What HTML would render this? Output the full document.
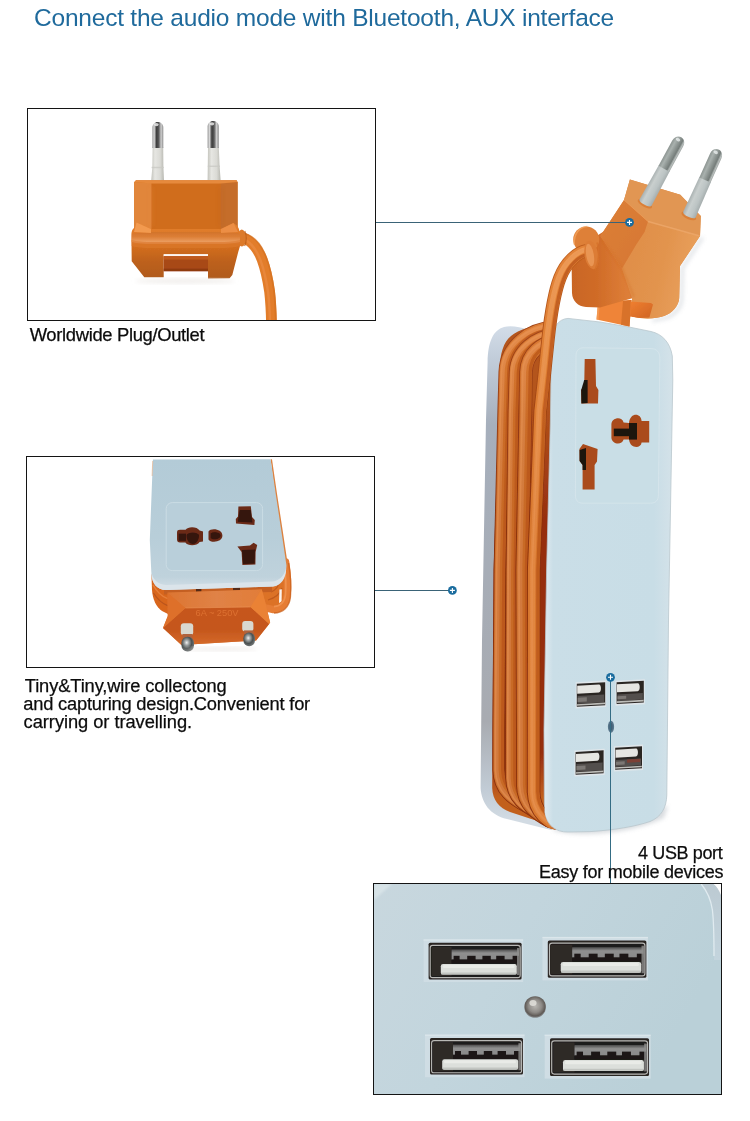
<!DOCTYPE html>
<html lang="en">
<head>
<meta charset="utf-8">
<title>Worldwide Plug/Outlet power strip with 4 USB port</title>
<style>
html,body{margin:0;padding:0;background:#fff;}
body{width:750px;height:1121px;position:relative;overflow:hidden;font-family:"Liberation Sans",sans-serif;color:#111;}
#art{position:absolute;left:0;top:0;width:750px;height:1121px;display:block;}
.t{position:absolute;white-space:nowrap;margin:0;padding:0;font-weight:normal;font-style:normal;-webkit-text-stroke:0.25px currentColor;}
#title{-webkit-text-stroke:0;}
#title{left:33.60px;top:3.01px;font-size:24.5px;line-height:29px;letter-spacing:-0.213px;color:#1f6a9c;will-change:transform;}
#cap1{left:29.66px;top:323.62px;font-size:18.4px;line-height:22px;letter-spacing:-0.333px;color:#0c0c0c;}
#c2a{left:24.76px;top:675.26px;font-size:18.3px;line-height:22px;letter-spacing:-0.110px;color:#0c0c0c;}
#c2b{left:23.24px;top:693.26px;font-size:18.3px;line-height:22px;letter-spacing:-0.199px;color:#0c0c0c;}
#c2c{left:23.62px;top:711.26px;font-size:18.3px;line-height:22px;letter-spacing:-0.053px;color:#0c0c0c;}
#c3a{left:638.12px;top:841.76px;font-size:18px;line-height:22px;letter-spacing:-0.390px;color:#0c0c0c;}
#c3b{left:538.92px;top:860.76px;font-size:18px;line-height:22px;letter-spacing:-0.251px;color:#0c0c0c;}
</style>
</head>
<body>
<svg id="art" width="750" height="1121" viewBox="0 0 750 1121">
<defs>
</defs>
<!-- ===== box 1 : plug ===== -->
<defs>
<clipPath id="c1"><rect x="28" y="109" width="347" height="211"/></clipPath>
<linearGradient id="metalV" x1="0" y1="0" x2="1" y2="0">
<stop offset="0" stop-color="#8f8f8f"/><stop offset="0.16" stop-color="#dcdcdc"/><stop offset="0.38" stop-color="#3c3c3c"/><stop offset="0.58" stop-color="#595959"/><stop offset="0.8" stop-color="#cfcfcf"/><stop offset="1" stop-color="#8c8c8c"/>
</linearGradient>
<linearGradient id="sleeveV" x1="0" y1="0" x2="1" y2="0">
<stop offset="0" stop-color="#c4c4bd"/><stop offset="0.3" stop-color="#e6e6e2"/><stop offset="0.7" stop-color="#dadad5"/><stop offset="1" stop-color="#b8b8b1"/>
</linearGradient>
<linearGradient id="b1body" x1="0" y1="0" x2="0" y2="1">
<stop offset="0" stop-color="#f2913f"/><stop offset="0.5" stop-color="#ee8a39"/><stop offset="1" stop-color="#e98334"/>
</linearGradient>
<linearGradient id="b1base" x1="0" y1="0" x2="0" y2="1">
<stop offset="0" stop-color="#e58231"/><stop offset="0.4" stop-color="#d56f20"/><stop offset="0.7" stop-color="#bd611d"/><stop offset="1" stop-color="#b05a1e"/>
</linearGradient>
<linearGradient id="b1cable" x1="0" y1="0" x2="1" y2="0">
<stop offset="0" stop-color="#e8832f"/><stop offset="0.5" stop-color="#f6a155"/><stop offset="1" stop-color="#e27c2b"/>
</linearGradient>
<linearGradient id="b1band" gradientUnits="userSpaceOnUse" x1="0" y1="232" x2="0" y2="245"><stop offset="0" stop-color="#d2732a"/><stop offset="0.35" stop-color="#dc7e36"/><stop offset="0.75" stop-color="#ea9c5e"/><stop offset="1" stop-color="#e08440"/></linearGradient>
<filter id="bl1" x="-20%" y="-20%" width="140%" height="140%"><feGaussianBlur stdDeviation="1"/></filter>
<filter id="bl2" x="-20%" y="-20%" width="140%" height="140%"><feGaussianBlur stdDeviation="2"/></filter>
<filter id="bl3" x="-30%" y="-30%" width="160%" height="160%"><feGaussianBlur stdDeviation="3.5"/></filter>
<filter id="bl05" x="-20%" y="-20%" width="140%" height="140%"><feGaussianBlur stdDeviation="0.5"/></filter>
</defs>
<g clip-path="url(#c1)">
<g filter="url(#bl05)">
<!-- cable -->
<path d="M238 236.5 C250 238 258 249 262.1 259.5 C266 270 268.5 284 269.6 291.5 C270.8 302 271.3 312 271.5 323" fill="none" stroke="#e27d2c" stroke-width="10.8" stroke-linecap="round"/>
<path d="M240 232.8 C254 234 262 246 266.2 257.5 C270.3 268 272.8 282 274 291 C275.2 302 275.6 312 275.8 323" fill="none" stroke="#d4701f" stroke-width="1.8" opacity="0.7"/>
<path d="M240 238 C250 240 256.5 250 260.6 260.5 C264.5 271 267 285 268.1 292.5 C269.3 303 269.8 313 270 323" fill="none" stroke="#ec8e44" stroke-width="2.4" opacity="0.6"/>
<!-- sleeves -->
<path d="M151.2 180.5 L152.3 167.5 L152.6 147 L163.2 147 L163.4 167.5 L164 180.5 Z" fill="url(#sleeveV)"/>
<path d="M207.6 180 L208 147 L218.8 147 L219.6 166 L220.6 180 Z" fill="url(#sleeveV)"/>
<rect x="151.6" y="166.8" width="12.2" height="1.4" fill="#c9c9c4" opacity="0.8"/>
<rect x="207.8" y="165.6" width="12.2" height="1.4" fill="#c9c9c4" opacity="0.8"/>
<!-- metal tips -->
<path d="M152.4 148 L152.4 127.5 C152.4 120 163.3 120 163.3 127.5 L163.3 148 Z" fill="url(#metalV)"/>
<path d="M207.6 148 L207.6 126.8 C207.6 119.2 218.8 119.2 218.8 126.8 L218.8 148 Z" fill="url(#metalV)"/>
<ellipse cx="156.4" cy="124.6" rx="2.2" ry="1.6" fill="#f4f4f4" opacity="0.8"/>
<ellipse cx="212" cy="123.8" rx="2.2" ry="1.6" fill="#f4f4f4" opacity="0.8"/>
<!-- upper block -->
<path d="M136 180.2 L236.6 180.2 L237.6 182.5 L237.6 232 L134.2 232 L134.2 182.5 Z" fill="#d06d1e"/>
<path d="M134.2 182 L151.4 183 L151.4 230 L134.2 230 Z" fill="#e1863a"/>
<path d="M220.6 183 L237.6 182 L237.6 230 L220.6 230 Z" fill="#c56d2b"/>
<path d="M136 180.2 L236.6 180.2 L237.6 182 L220.6 183.4 L151.4 183.4 L134.2 182 Z" fill="#e68a3c"/>
<!-- collar where the cable leaves -->
<ellipse cx="241.8" cy="238" rx="4.2" ry="8.6" fill="#dc7a2c"/>
<path d="M244.8 231 C246.8 235 246.8 242 244.6 246" fill="none" stroke="#b95c18" stroke-width="1.2" opacity="0.8"/>
<!-- base -->
<path d="M134 228 L136.5 222.5 L151 229 L221 229 L233.5 223 L237.4 226 C239.6 229 240 233 240 238 L240 246 L238.3 251.7 L232.3 275 L229.6 278.2 L208 278.4 L208 254.3 L163.7 254.3 L163.7 277.3 L144.3 277.3 L131.7 261.3 L131.4 234 C131.6 231 132.5 229 134 228 Z" fill="url(#b1base)"/>
<!-- base top band (lighter) -->
<path d="M132 234 C140 232.5 150 232 160 232 L222 232 C230 232 236 232.6 240 234 L240 242 C234 243.6 226 244 220 244 L152 244 C144 244 137 243.6 131.6 242 Z" fill="url(#b1band)"/>
<path d="M131.6 240 C137 241.6 144 242 152 242 L220 242 C226 242 234 241.6 240 240 L240 246 C234 247.6 226 248 220 248 L152 248 C144 248 137 247.6 131.6 246 Z" fill="#dc7a2e" opacity="0.6"/>
<path d="M136.5 222.5 L151 229 L151 233 L134 232 Z" fill="#f29a50"/>
<path d="M233.5 223 L221 229 L221 233 L238 232 Z" fill="#ec8e44"/>
<!-- notch bar -->
<rect x="163.7" y="254.3" width="44.3" height="2" fill="#fdf6f0"/>
<rect x="163.7" y="256.2" width="44.3" height="15" fill="#a84814"/>
<rect x="163.7" y="256.2" width="44.3" height="3.4" fill="#bf5a1a"/>
<rect x="163.7" y="268.6" width="44.3" height="2.6" fill="#8f3a10"/>
</g>
<!-- soft shading -->
<g filter="url(#bl2)" opacity="0.45">
<path d="M151.4 187 L151.4 226" stroke="#eb9048" stroke-width="1.6" fill="none"/>
<path d="M220.6 187 L220.6 226" stroke="#b85e1c" stroke-width="1.6" fill="none"/>
</g>
<!-- ground shadow -->
<ellipse cx="185" cy="281" rx="50" ry="2.5" fill="#e2ddd8" opacity="0.5" filter="url(#bl2)"/>
</g>
<!-- ===== box 2 : strip end with folded plug ===== -->
<defs>
<clipPath id="c2"><rect x="27" y="457" width="347" height="210"/></clipPath>
<linearGradient id="b2face" x1="0" y1="0" x2="0" y2="1">
<stop offset="0" stop-color="#b3cbd7"/><stop offset="0.6" stop-color="#b8ced9"/><stop offset="0.9" stop-color="#bfd2dc"/><stop offset="1" stop-color="#d5e0e7"/>
</linearGradient>
<linearGradient id="b2front" x1="0" y1="0" x2="0" y2="1">
<stop offset="0" stop-color="#c6571c"/><stop offset="0.6" stop-color="#c5571d"/><stop offset="1" stop-color="#d56a2a"/>
</linearGradient>
<linearGradient id="b2bevel" x1="0" y1="0" x2="1" y2="0">
<stop offset="0" stop-color="#dc7430"/><stop offset="0.5" stop-color="#e08246"/><stop offset="1" stop-color="#e27c36"/>
</linearGradient>
<radialGradient id="ball" cx="0.42" cy="0.4" r="0.62">
<stop offset="0" stop-color="#f2f2f2"/><stop offset="0.25" stop-color="#a8adad"/><stop offset="0.65" stop-color="#4a5050"/><stop offset="1" stop-color="#737878"/>
</radialGradient>
</defs>
<g clip-path="url(#c2)">
<g filter="url(#bl05)">
<!-- cables behind, visible right of the face near the bottom -->
<path d="M272 560 L287 566 L288 600 L276 610 L262 606 L260 588 Z" fill="#dc7228"/>
<path d="M271 592 C276 590 279 586 280 580 M268 600 C275 598 280 594 282 588" fill="none" stroke="#b9551a" stroke-width="1.2" opacity="0.8"/>
<!-- white gap inside the loop -->
<path d="M279.4 589.6 L281.8 589.2 L281.6 601.6 L279 603 Z" fill="#fbf4ee"/>
<!-- cable loop on the right -->
<path d="M285.6 562 C287.6 574 288 585 287.2 595 C286.4 604 281 609.6 273 609.6 L266 608" fill="none" stroke="#e67d34" stroke-width="7.4" stroke-linecap="round"/>
<path d="M288.6 563 C290.8 576 291.2 588 290.4 597 C289.4 607 283 613 274 613" fill="none" stroke="#c9601e" stroke-width="1.4" opacity="0.75"/>
<path d="M284.4 566 C286 577 286.2 586 285.6 594 C285 601 281 606 274 606.6" fill="none" stroke="#f29a58" stroke-width="1.6" opacity="0.7"/>
<!-- orange under the face (left cables) -->
<path d="M151.4 574 L168 588 L168 614 L162 611 C156 607 152.6 599 152 590 Z" fill="#d8661f"/>
<path d="M153.4 593 C158 600 162 603.6 167.6 605.6" fill="none" stroke="#b4511a" stroke-width="1.3" opacity="0.85"/>
<path d="M153 585 C157 592 162 596.6 167.6 598.6" fill="none" stroke="#ec8a44" stroke-width="1.5" opacity="0.7"/>
<!-- dark gap under face -->
<path d="M164 588 L272 585.6 L272 592 L164 594.6 Z" fill="#c45f20"/>
<path d="M196 588.2 L201.4 588 L201.4 591.6 L196 591.8 Z M233 586.6 L240 586.4 L240 590 L233 590.2 Z" fill="#572a14"/>
<!-- orange sliver along the right edge of the face -->
<path d="M270.6 459.2 L272 459.2 L277.2 495 L282.6 530 L288 566 L284 568 Z" fill="#dc8240"/>
<!-- strip face -->
<path d="M152.9 459.6 L270.6 459.2 L275.9 495 L281.2 530 L286.4 565 C287 574 281.5 585.6 273 586.6 L166 590 C157 590 151.8 583 151.4 574 L149.8 540 Z" fill="url(#b2face)"/>
<!-- lighter rim along the bottom -->
<path d="M151.5 572 C152.4 579 157.6 584.6 166 585 L272 581.6 C279 581 284.6 575.6 286 568 C286.6 577 281.5 585.6 273 586.6 L166 590 C157 590 151.8 583 151.4 574 Z" fill="#dbe4ea"/>
<path d="M152.7 461 L152.1 476" fill="none" stroke="#e08a48" stroke-width="0.6" opacity="0.7"/>
<!-- socket panel -->
<rect x="166.2" y="502.6" width="96.4" height="68" rx="6" ry="6" fill="#b9cfda" stroke="#cbdce4" stroke-width="1"/>
<!-- holes -->
<g fill="#6b2a17">
<path d="M177 532.5 C177 530.5 178 529.8 180 529.8 L185.6 529.8 C187.6 526.2 197.4 526.2 199.6 530.6 L203 531.6 C203 535 203 538 203 541.6 L199.6 542 C197 546.2 187.6 546.2 185.4 542.4 L180 542.4 C178 542.4 177 541.5 177 539.5 Z"/>
<path d="M208.5 531.5 C210.5 527.5 222.6 528.5 222.4 535.6 C222.6 542.4 210.5 543.4 208.5 539.4 Z"/>
<path d="M238.4 506.4 L250.8 506.2 L252 517 L254.8 520 L254.4 525 L236 523.4 L235.8 519 L238 516.4 Z"/>
<path d="M237.4 546.6 L250 545.4 L253.6 542.8 L257.2 545 L255.6 552 L255.4 564.6 L242.4 565 L241.6 552 Z"/>
</g>
<g fill="#2b110c" opacity="0.85">
<path d="M186.5 535 C188 531.5 197.5 531.5 199 535 C199 541 195.6 544 192.8 544 C190 544 186.5 541 186.5 535 Z"/>
<path d="M178.6 533.6 L186 533.6 L186 540.8 L178.6 540.8 Z"/>
<path d="M239.6 510 L250.6 510 L252.4 522.6 L237.8 521.8 Z"/>
<path d="M242 550 L255 549.6 L254.6 563.6 L243 564 Z"/>
<path d="M210.6 533.6 C213 531.4 220.6 532 220.6 535.8 C220.6 539.4 213 540.4 210.6 538 Z"/>
</g>
<!-- orange plug : silhouette (bevel colour) -->
<path d="M167.6 592.6 L261.7 589.3 L265.5 603.3 L270.1 622.5 L256.1 640.5 L181.4 645 L163 628 L167.8 616 Z" fill="url(#b2bevel)"/>
<!-- front hexagon -->
<path d="M185.4 608 L250.5 607 L269.2 623.9 L256.1 640.5 L181.4 645 L163 628 Z" fill="url(#b2front)"/>
<path d="M185.4 608 L250.5 607" stroke="#ef965a" stroke-width="0.8" fill="none" opacity="0.7"/>
<path d="M250.5 607 L261.7 589.3 L265.5 603.3 L270.1 622.5 L269.2 623.9 Z" fill="#ea8236"/>
<path d="M167.6 592.6 L185.4 608 L163 628 L167.8 616 Z" fill="#de7029"/>
<!-- pins -->
<rect x="180.8" y="623.2" width="12.4" height="12" rx="3" fill="#d9d8cf"/>
<rect x="242.2" y="621" width="11.2" height="10.6" rx="3" fill="#d9d8cf"/>
<rect x="182.4" y="634" width="10" height="4" fill="#b0643c"/>
<rect x="244" y="630.4" width="9.6" height="3.4" fill="#b0643c"/>
<rect x="181.4" y="636.8" width="12.6" height="14.6" rx="6" fill="url(#ball)"/>
<rect x="243.4" y="632.6" width="11.6" height="13.6" rx="5.6" fill="url(#ball)"/>
</g>
<text x="217" y="616" font-family="'Liberation Sans',sans-serif" font-size="9.5" text-anchor="middle" fill="#e57a38" opacity="0.75" textLength="43" lengthAdjust="spacingAndGlyphs">6A ~ 250V</text>
<ellipse cx="220" cy="649" rx="38" ry="2" fill="#ddd7d2" opacity="0.45" filter="url(#bl2)"/>
</g>
<!-- ===== main product : strip ===== -->
<defs>
<linearGradient id="mface" x1="0" y1="0" x2="1" y2="0">
<stop offset="0" stop-color="#e2ebf0"/><stop offset="0.07" stop-color="#cadee7"/><stop offset="0.85" stop-color="#c8dde6"/><stop offset="1" stop-color="#d4e2e9"/>
</linearGradient>
<linearGradient id="mback" gradientUnits="userSpaceOnUse" x1="0" y1="326" x2="0" y2="820">
<stop offset="0" stop-color="#d3dde8"/><stop offset="0.06" stop-color="#c3cedb"/><stop offset="0.2" stop-color="#a6afbc"/><stop offset="0.8" stop-color="#a8abb1"/><stop offset="0.94" stop-color="#c2ccd6"/><stop offset="1" stop-color="#d2dbe3"/>
</linearGradient>
<linearGradient id="pinM" gradientUnits="userSpaceOnUse" x1="-6.2" y1="0" x2="6.2" y2="0">
<stop offset="0" stop-color="#8d9592"/><stop offset="0.25" stop-color="#a9b1ae"/><stop offset="0.55" stop-color="#8a928f"/><stop offset="0.75" stop-color="#757d7a"/><stop offset="0.9" stop-color="#b9bfbd"/><stop offset="1" stop-color="#a0a6a4"/>
</linearGradient>
<linearGradient id="pinS" gradientUnits="userSpaceOnUse" x1="-6.6" y1="0" x2="6.6" y2="0">
<stop offset="0" stop-color="#a9b1b1"/><stop offset="0.3" stop-color="#c9cfce"/><stop offset="0.7" stop-color="#bcc4c4"/><stop offset="1" stop-color="#a6aeae"/>
</linearGradient>
<linearGradient id="gbase" gradientUnits="userSpaceOnUse" x1="0" y1="320" x2="0" y2="520"><stop offset="0" stop-color="#dc7c34"/><stop offset="0.5" stop-color="#cb6c28"/><stop offset="1" stop-color="#c86a26"/></linearGradient>
<linearGradient id="ghi" gradientUnits="userSpaceOnUse" x1="0" y1="320" x2="0" y2="520"><stop offset="0" stop-color="#e89050"/><stop offset="0.5" stop-color="#d88244"/><stop offset="1" stop-color="#d47c40"/></linearGradient>
<linearGradient id="gdk" gradientUnits="userSpaceOnUse" x1="0" y1="320" x2="0" y2="520"><stop offset="0" stop-color="#a0451a"/><stop offset="1" stop-color="#8a300c"/></linearGradient>
<linearGradient id="gshadow" gradientUnits="userSpaceOnUse" x1="0" y1="400" x2="0" y2="810"><stop offset="0" stop-color="#b4551c"/><stop offset="0.3" stop-color="#962d0f"/><stop offset="0.86" stop-color="#962d0f"/><stop offset="0.97" stop-color="#c2601f"/></linearGradient>
<clipPath id="cbundle"><path d="M480 316 L556 316 L556 830 L550.7 828.5 C530 823 515 816 506.7 810.5 C498 805.5 493 799 492.3 789 L480 789 Z"/></clipPath>
</defs>
<g id="main">
<g filter="url(#bl05)">
<!-- back plate -->
<path d="M504 327 C510 325.5 520 326.5 528 330 L552 340 L552 830 L549 829.5 L507 819 C490 815 481.5 803 480.6 788 L482 640 L486 420 L487.6 362 C488 342 493 330 504 327 Z" fill="url(#mback)"/>
<!-- bundle shadow base -->
<path d="M511 336 C518 330 535 324 552 323 L552 826 L548 824.5 L510 812 C499 808 492.6 800 492.2 788 L493.6 570 L498.6 411 L499.4 372 C500 353 503.5 342 511 336 Z" fill="url(#gshadow)"/>
<g clip-path="url(#cbundle)">
<path d="M553.0 327.0 C530.0 328.0 505.5 345.0 504.8 372.0 L503.7 411 L499.9 570 L498.7 730 L498.7 770.0 C499.2 788.0 507.7 800.0 542.7 814.0" fill="none" stroke="url(#gdk)" stroke-width="12.6"/>
<path d="M553.0 327.0 C530.0 328.0 505.5 345.0 504.8 372.0 L503.7 411 L499.9 570 L498.7 730 L498.7 770.0 C499.2 788.0 507.7 800.0 542.7 814.0" fill="none" stroke="url(#gbase)" stroke-width="10.799999999999999"/>
<path d="M552.3 325.6 C528.6 326.8 503.1 344.5 502.4 372.0 L501.3 411 L497.5 570 L496.3 730 L496.3 770.0 C496.8 789.0 506.3 801.9 542.0 816.4" fill="none" stroke="url(#ghi)" stroke-width="4.6" opacity="0.85"/>
<path d="M552.0 325.1 C528.1 326.4 502.3 344.4 501.6 372.0 L500.5 411 L496.7 570 L495.5 730 L495.5 770.0 C496.0 789.3 505.8 802.6 541.7 817.2" fill="none" stroke="#ea9656" stroke-width="1.6" opacity="0.5"/>
<path d="M554.1 329.3 C532.3 329.9 509.3 345.8 508.6 372.0 L507.5 411 L503.7 570 L502.5 730 L502.5 770.0 C503.0 786.5 510.0 796.9 543.8 810.2" fill="none" stroke="#b65218" stroke-width="3.0" opacity="0.7"/>
<path d="M553.0 334.0 C536.0 336.0 515.5 349.0 514.6 372.0 L513.4 411 L511.4 570 L511.0 730 L511.0 778.0 C511.5 796.0 520.0 808.0 555.0 822.0" fill="none" stroke="url(#gdk)" stroke-width="11.6"/>
<path d="M553.0 334.0 C536.0 336.0 515.5 349.0 514.6 372.0 L513.4 411 L511.4 570 L511.0 730 L511.0 778.0 C511.5 796.0 520.0 808.0 555.0 822.0" fill="none" stroke="url(#gbase)" stroke-width="9.799999999999999"/>
<path d="M552.3 332.6 C534.6 334.8 513.1 348.5 512.2 372.0 L511.0 411 L509.0 570 L508.6 730 L508.6 778.0 C509.1 797.0 518.6 809.9 554.3 824.4" fill="none" stroke="url(#ghi)" stroke-width="4.2" opacity="0.85"/>
<path d="M552.0 332.1 C534.1 334.4 512.3 348.4 511.4 372.0 L510.2 411 L508.2 570 L507.8 730 L507.8 778.0 C508.3 797.3 518.1 810.6 554.0 825.2" fill="none" stroke="#ea9656" stroke-width="1.6" opacity="0.5"/>
<path d="M554.0 336.1 C538.1 337.7 519.0 349.7 518.1 372.0 L516.9 411 L514.9 570 L514.5 730 L514.5 778.0 C515.0 794.6 522.1 805.2 556.0 818.5" fill="none" stroke="#b65218" stroke-width="2.8" opacity="0.7"/>
<path d="M553.0 341.0 C543.0 343.0 526.5 352.0 526.0 372.0 L525.4 411 L522.2 570 L522.8 730 L522.8 785.0 C523.3 803.0 531.8 815.0 566.8 829.0" fill="none" stroke="url(#gdk)" stroke-width="13.6"/>
<path d="M553.0 341.0 C543.0 343.0 526.5 352.0 526.0 372.0 L525.4 411 L522.2 570 L522.8 730 L522.8 785.0 C523.3 803.0 531.8 815.0 566.8 829.0" fill="none" stroke="url(#gbase)" stroke-width="11.799999999999999"/>
<path d="M552.3 339.6 C541.6 341.8 524.1 351.5 523.6 372.0 L523.0 411 L519.8 570 L520.4 730 L520.4 785.0 C520.9 804.0 530.4 816.9 566.1 831.4" fill="none" stroke="url(#ghi)" stroke-width="5.0" opacity="0.85"/>
<path d="M552.0 339.1 C541.1 341.4 523.3 351.4 522.8 372.0 L522.2 411 L519.0 570 L519.6 730 L519.6 785.0 C520.1 804.3 529.9 817.6 565.8 832.2" fill="none" stroke="#ea9656" stroke-width="1.6" opacity="0.5"/>
<path d="M554.2 343.5 C545.5 345.1 530.7 352.8 530.2 372.0 L529.6 411 L526.4 570 L527.0 730 L527.0 785.0 C527.5 801.3 534.3 811.7 568.0 824.8" fill="none" stroke="#b65218" stroke-width="3.3" opacity="0.7"/>
</g>
<!-- soft ground shadow -->
<path d="M552 830 C580 838 630 834 664 818 L668 806 L560 826 Z" fill="#aab2ba" opacity="0.45" filter="url(#bl2)"/>
<!-- front face -->
<path d="M568 318.4 L600 322 L629 327 L651 331.5 C662 334 670 342 672.3 356 L672.8 380 L668.5 620 L666.8 795 C666.5 808 661 817 650 821.5 C635 826.5 615 830 590 831.6 L568 832 C556 832.4 546.5 825 544.4 812 L544 730 L546.6 570 L550.4 420 L551.5 342 C552 328 558 319 568 318.4 Z" fill="url(#mface)" stroke="#b9c6cd" stroke-width="0.8"/>
<!-- socket panel -->
<path d="M584 347.8 L651 348.6 C656.5 348.6 659.8 352 659.8 358 L658.4 495 C658.4 500.5 655.5 503.2 650.5 503.2 L583 503.2 C578 503.2 575.4 500.5 575.4 495 L576 356 C576 350.5 578.6 347.8 584 347.8 Z" fill="#c9dee6" stroke="#d9e7ed" stroke-width="0.9" stroke-opacity="0.75"/>
<!-- holes -->
<g fill="#aa4b1c">
<path d="M584.7 359 L595.4 359 L596 386 L598.4 390 L598 403.5 L581.4 403.5 L581 390 L584.2 386 Z"/>
<path d="M611.4 424 C612 417.5 622 416 623.6 422.5 L629 423 C630 412.5 641 412.5 641.6 421 L649.2 421 L649.2 442.6 L641.6 442.6 C641 449 630 449 629 439.6 L623.6 439.6 C622 445.5 612 444.5 611.4 438 Z"/>
<path d="M579.4 449 L583 444 L597.6 449 L597 461.5 L594.6 465 L594.6 489.5 L582.6 489.5 L582.6 465 L579.6 461 Z"/>
</g>
<g fill="#1d1410">
<path d="M581.2 390 L584.2 380 L587.6 380 L587.6 403 L581.4 403.5 Z"/>
<path d="M613.8 428.6 L634 428.6 L634 436.2 L613.8 436.2 Z"/>
<path d="M629 423 L637 423 L637 439.6 L629 439.6 Z"/>
<path d="M579.6 450 L586 448 L586 470 L582.6 470 L582.6 465 L579.6 461 Z"/>
</g>
<!-- usb ports -->
<g>
<g transform="translate(575.6 682.2) skewY(-3.2)">
<rect x="0" y="0" width="30.6" height="26.4" fill="#dfe6ea"/>
<rect x="1.2" y="1.6" width="28.4" height="23.0" fill="#2b2624"/>
<path d="M1.6 3.6 L23.3 3.6 C26.0 3.6 26.0 11.6 23.3 11.6 L1.6 11.6 Z" fill="#e6e6e2"/>
<rect x="2" y="13.8" width="26.6" height="7.8" fill="#5e5a57" opacity="0.8"/>
<rect x="2" y="15.6" width="9.2" height="4.4" fill="#8e8a85" opacity="0.7"/>
<rect x="1.2" y="22.0" width="28.2" height="1.6" fill="#bdbdb9"/>
</g>
<g transform="translate(615.4 680.8) skewY(-3.2)">
<rect x="0" y="0" width="29.4" height="25" fill="#dfe6ea"/>
<rect x="1.2" y="1.6" width="27.2" height="21.6" fill="#2b2624"/>
<path d="M1.6 3.6 L22.3 3.6 C25.0 3.6 25.0 11.6 22.3 11.6 L1.6 11.6 Z" fill="#e6e6e2"/>
<rect x="2" y="13.8" width="25.4" height="6.4" fill="#5e5a57" opacity="0.8"/>
<rect x="2" y="15.6" width="8.8" height="3.0" fill="#8e8a85" opacity="0.7"/>
<rect x="1.2" y="20.6" width="27.0" height="1.6" fill="#bdbdb9"/>
</g>
<g transform="translate(574.4 750.4) skewY(-3.2)">
<rect x="0" y="0" width="30.2" height="26.2" fill="#dfe6ea"/>
<rect x="1.2" y="1.6" width="28.0" height="22.8" fill="#2b2624"/>
<path d="M1.6 3.6 L23.0 3.6 C25.7 3.6 25.7 11.6 23.0 11.6 L1.6 11.6 Z" fill="#e6e6e2"/>
<rect x="2" y="13.8" width="26.2" height="7.6" fill="#5e5a57" opacity="0.8"/>
<rect x="2" y="15.6" width="9.1" height="4.2" fill="#8e8a85" opacity="0.7"/>
<rect x="1.2" y="21.8" width="27.8" height="1.6" fill="#bdbdb9"/>
</g>
<g transform="translate(614 746.2) skewY(-3.2)">
<rect x="0" y="0" width="29" height="25.4" fill="#dfe6ea"/>
<rect x="1.2" y="1.6" width="26.8" height="22.0" fill="#2b2624"/>
<path d="M1.6 3.6 L22.0 3.6 C24.6 3.6 24.6 11.6 22.0 11.6 L1.6 11.6 Z" fill="#e6e6e2"/>
<rect x="2" y="13.8" width="25.0" height="6.8" fill="#5e5a57" opacity="0.8"/>
<rect x="2" y="15.6" width="8.7" height="3.4" fill="#8e8a85" opacity="0.7"/>
<rect x="13.1" y="14" width="13.1" height="3.2" fill="#8e3a2a" opacity="0.7"/>
<rect x="1.2" y="21.0" width="26.6" height="1.6" fill="#bdbdb9"/>
</g>
</g>
<!-- led -->
<ellipse cx="611" cy="726.8" rx="3.1" ry="6" fill="#56748a"/>
<ellipse cx="611" cy="726.8" rx="1.6" ry="4" fill="#3f5a70" opacity="0.8"/>
</g>
</g>
<!-- ===== main product : plug on top ===== -->
<defs>
<linearGradient id="pdrum" x1="0" y1="0" x2="1" y2="0">
<stop offset="0" stop-color="#c96524"/><stop offset="0.35" stop-color="#d06c28"/><stop offset="0.7" stop-color="#dc7c36"/><stop offset="1" stop-color="#e08844"/>
</linearGradient>
<linearGradient id="prface" x1="0" y1="0" x2="1" y2="0.3">
<stop offset="0" stop-color="#df8c46"/><stop offset="0.6" stop-color="#e2944e"/><stop offset="1" stop-color="#e9a05c"/>
</linearGradient>
<linearGradient id="plface" x1="0" y1="0" x2="1" y2="1">
<stop offset="0" stop-color="#dc8038"/><stop offset="1" stop-color="#d67632"/>
</linearGradient>
</defs>
<g id="mainplug" filter="url(#bl05)">
<!-- plug tab -->
<path d="M598 302 L631.5 300 L629.5 326.5 L596.5 319.5 Z" fill="#ef8437"/>
<path d="M623 301 L631.5 300 L629.5 326.5 L621 324.7 Z" fill="#d8722a"/>
<path d="M598 302 L600 302 L598.5 320 L596.5 319.5 Z" fill="#f5a05a" opacity="0.7"/>
<!-- (underside handled in the body part) -->
<!-- drum (left part of the base) -->
<path d="M606 230 L632 262 L646 296 L634 297.8 L600 307.6 L586 307 C578 306.6 572.4 301 572 293 L571.6 262 C571.6 252 576 246 584 244 Z" fill="url(#pdrum)"/>
<!-- ring bump behind cable -->
<circle cx="586.2" cy="239.4" r="13" fill="#de8038"/>
<path d="M574.2 244.5 C573.6 233 580 226.6 587.4 226.4" fill="none" stroke="#f6a660" stroke-width="1.5" opacity="0.7"/>
</g>
<!-- front cable: plug -> down along the face -> curls under -->
<defs><clipPath id="cfront"><path d="M480 200 L700 200 L700 690 L546 690 L544 730 L544.4 812 C545.5 820 549 826 553 829.4 L550.7 828.5 C530 823 515 816 506.7 810.5 C498 805.5 493 799 492.3 789 L480 789 Z"/></clipPath>
<linearGradient id="fbase" gradientUnits="userSpaceOnUse" x1="0" y1="250" x2="0" y2="520"><stop offset="0" stop-color="#e38338"/><stop offset="0.35" stop-color="#df7f34"/><stop offset="1" stop-color="#d7772e"/></linearGradient>
<linearGradient id="fhi" gradientUnits="userSpaceOnUse" x1="0" y1="250" x2="0" y2="520"><stop offset="0" stop-color="#f0a05c"/><stop offset="1" stop-color="#e48a46"/></linearGradient>
<linearGradient id="fdk" gradientUnits="userSpaceOnUse" x1="0" y1="250" x2="0" y2="520"><stop offset="0" stop-color="#c0601e"/><stop offset="1" stop-color="#8a300c"/></linearGradient></defs>
<g clip-path="url(#cfront)" filter="url(#bl05)">
<path d="M586.5 250.6 C578.0 252.0 566.0 262.0 560.0 277.6 C554.4 292.0 551.0 312.0 548.0 339.5 L544.6 372.0 L540.2 411.0 L533.7 570.0 L533.6 730.0 L533.6 792.0 C534.1 810.0 542.6 822.0 577.6 836.0" fill="none" stroke="url(#fdk)" stroke-width="13.4"/>
<path d="M586.5 250.6 C578.0 252.0 566.0 262.0 560.0 277.6 C554.4 292.0 551.0 312.0 548.0 339.5 L544.6 372.0 L540.2 411.0 L533.7 570.0 L533.6 730.0 L533.6 792.0 C534.1 810.0 542.6 822.0 577.6 836.0" fill="none" stroke="url(#fbase)" stroke-width="11.6"/>
<path d="M586.3 249.5 C577.6 250.9 565.3 261.1 559.0 277.0 C553.3 291.6 549.8 311.9 546.8 339.5 L543.4 372.0 L539.0 411.0 L532.5 570.0 L532.4 730.0 L532.4 792.0 C532.9 810.5 541.9 823.0 577.2 837.2" fill="none" stroke="url(#fhi)" stroke-width="5.2" opacity="0.8"/>
<path d="M586.2 249.1 C577.5 250.6 565.0 260.8 558.6 276.8 C552.9 291.5 549.4 311.8 546.4 339.5 L543.0 372.0 L538.6 411.0 L532.1 570.0 L532.0 730.0 L532.0 792.0 C532.5 810.6 541.6 823.3 577.1 837.6" fill="none" stroke="#ea9656" stroke-width="1.6" opacity="0.5"/>
<path d="M587.3 254.5 C579.2 255.7 568.5 265.1 563.5 279.6 C558.3 293.2 555.1 312.4 552.1 339.5 L548.7 372.0 L544.3 411.0 L537.8 570.0 L537.7 730.0 L537.7 792.0 C538.2 808.4 545.1 818.7 578.8 831.9" fill="none" stroke="#b65218" stroke-width="3.2" opacity="0.7"/>
</g>
<defs><linearGradient id="pslot" x1="0" y1="0" x2="1" y2="1"><stop offset="0" stop-color="#f07f30"/><stop offset="1" stop-color="#cf6424"/></linearGradient></defs>
<g id="mainplug2" filter="url(#bl05)">
<!-- soft drop shadow on the right of the plug -->
<path d="M700 236 L680 266 L679.2 298 C678.8 306 672 313.5 664 316 L650 319" fill="none" stroke="#9aa4b0" stroke-width="3" opacity="0.35" filter="url(#bl2)" transform="translate(2.4 1.6)"/>
<!-- strain-relief collar -->
<ellipse cx="591.4" cy="255" rx="6.8" ry="14.4" transform="rotate(-10 591.4 255)" fill="#dc7c36"/>
<ellipse cx="590" cy="255" rx="3.8" ry="11.4" transform="rotate(-10 590 255)" fill="#eb9a58" opacity="0.85"/>
<path d="M597 242.6 C599.6 250 599 262 595 269.6" fill="none" stroke="#d5712a" stroke-width="1.5" opacity="0.8"/>
<!-- upper body silhouette -->
<path d="M629.9 179.4 L680.3 194.7 L700.8 216 L700 236 L680 266 L679.2 298 C678.8 306 672 313.5 664 316 C658 318 650 319 640 318 L632 316.5 L632 297.4 L622 268.5 L600.4 236.1 L624 200 Z" fill="#e08c46"/>
<!-- right face (continues into the base front) -->
<path d="M648 221.5 L700 236 L680 266 L679.2 298 C678.8 306 672 313.5 664 316 C658 318 650 319 640 318 L632 316.5 L632 297.4 L622 268.5 L636 245 Z" fill="url(#prface)"/>
<!-- tab slot (darker recess) -->
<path d="M630.6 301.6 L651 303 L653 304.4 L649.4 317.4 L640 318 L630 316.6 Z" fill="url(#pslot)"/>
<!-- left face -->
<path d="M624 200 L648 221.5 L644.6 232 L636 245 L622 268.5 L600.4 236.1 Z" fill="url(#plface)"/>
<!-- top face -->
<path d="M629.9 179.4 L680.3 194.7 L700.8 216 L700 236 L648 221.5 L624 200 Z" fill="#e19653"/>
<path d="M648 221.5 L700 236" stroke="#eeaa6e" stroke-width="1.3" fill="none" opacity="0.75"/>
<path d="M624 200 L648 221.5" stroke="#f2a05a" stroke-width="1" fill="none" opacity="0.6"/>
<!-- soft shadow where drum meets the body -->
<path d="M603 240 L622 268.5 L634 297" fill="none" stroke="#d06c24" stroke-width="2" opacity="0.35" filter="url(#bl1)"/>
<!-- pins -->
<g transform="translate(645.6 202.4) rotate(28.6)">
<ellipse cx="0" cy="1.5" rx="8" ry="3.2" fill="#d8762d" opacity="0.7"/>
<path d="M-6.8 0 C-6.8 3.4 6.8 3.4 6.8 0 L6.3 -39 L-6.3 -39 Z" fill="url(#pinS)"/>
<path d="M-6.2 -38.4 L-6.2 -67 C-6.2 -76.8 6.2 -76.8 6.2 -67 L6.2 -38.4 Z" fill="url(#pinM)"/>
<ellipse cx="-1.6" cy="-70.6" rx="2.4" ry="1.6" fill="#eef2f1" opacity="0.75"/>
</g>
<g transform="translate(689.4 214.6) rotate(24.2)">
<ellipse cx="0" cy="1.5" rx="8" ry="3.2" fill="#d8762d" opacity="0.7"/>
<path d="M-6.8 0 C-6.8 3.4 6.8 3.4 6.8 0 L6.3 -38.6 L-6.3 -38.6 Z" fill="url(#pinS)"/>
<path d="M-6.2 -38 L-6.2 -64 C-6.2 -73.8 6.2 -73.8 6.2 -64 L6.2 -38 Z" fill="url(#pinM)"/>
<ellipse cx="-1.6" cy="-67.6" rx="2.4" ry="1.6" fill="#eef2f1" opacity="0.75"/>
</g>
</g>
<!-- ===== box 3 : usb closeup ===== -->
<defs>
<clipPath id="c3"><rect x="374" y="884" width="347" height="210"/></clipPath>
<linearGradient id="b3bg" x1="0" y1="0" x2="1" y2="0.35">
<stop offset="0" stop-color="#c8d7de"/><stop offset="0.45" stop-color="#c2d5dd"/><stop offset="1" stop-color="#bad0d8"/>
</linearGradient>
<linearGradient id="edgefade" x1="0" y1="0" x2="0" y2="1"><stop offset="0" stop-color="#bccad2"/><stop offset="1" stop-color="#c3d4dd"/></linearGradient>
<linearGradient id="usbgrey" x1="0" y1="0" x2="0" y2="1">
<stop offset="0" stop-color="#4a4a4a"/><stop offset="0.35" stop-color="#8f8f8f"/><stop offset="1" stop-color="#8a8a8a"/>
</linearGradient>
<radialGradient id="led" cx="0.5" cy="0.45" r="0.55">
<stop offset="0" stop-color="#b9b7b3"/><stop offset="0.55" stop-color="#8e8b87"/><stop offset="0.85" stop-color="#5f5a56"/><stop offset="1" stop-color="#8a8f92"/>
</radialGradient>
<g id="usb">
<rect x="-5" y="-2.6" width="99.5" height="42.6" fill="#cfdde4"/>
<rect x="-5" y="-2.6" width="99.5" height="1.2" fill="#dbe6eb"/>
<rect x="0" y="0.8" width="93" height="36.6" rx="1.5" fill="#2a2524"/>
<rect x="1.6" y="3.4" width="90" height="32.2" rx="2.4" fill="#1f1b1a" stroke="#b9b9b6" stroke-width="1.1"/>
<rect x="3" y="5" width="20" height="29" fill="#2d2928"/>
<rect x="23" y="7.4" width="67.4" height="10.2" fill="url(#usbgrey)"/>
<rect x="23" y="17.6" width="67.4" height="3.4" fill="#1a1615"/>
<g fill="#1c1817">
<rect x="25" y="13.8" width="6" height="5"/><rect x="38.6" y="13.8" width="8.4" height="5"/><rect x="53.8" y="13.8" width="8.4" height="5"/><rect x="67.6" y="13.8" width="8.4" height="5"/><rect x="84" y="13.8" width="6.4" height="5"/>
</g>
<rect x="12.2" y="22" width="76" height="10.6" rx="2.2" fill="#dcdfdb"/>
<rect x="14" y="23" width="72" height="3" rx="1.5" fill="#eceeea" opacity="0.8"/>
<rect x="12.4" y="30.4" width="75.6" height="2" rx="1" fill="#c2c5c1"/>
<rect x="88.4" y="6" width="2.6" height="27" fill="#8f8f8d" opacity="0.8"/>
</g>
</defs>
<g clip-path="url(#c3)">
<rect x="374" y="884" width="347" height="210" fill="url(#b3bg)"/>
<g filter="url(#bl05)">
<use href="#usb" x="428.6" y="942"/>
<use href="#usb" x="547.8" y="939.6" transform="translate(547.8 939.6) scale(1.06 1.02) translate(-547.8 -939.6)"/>
<use href="#usb" x="430" y="1037.2"/>
<use href="#usb" x="550" y="1037.4" transform="translate(550 1037.4) scale(1.065 1.03) translate(-550 -1037.4)"/>
<circle cx="535.1" cy="1007" r="10.8" fill="url(#led)"/>
<ellipse cx="533" cy="1003" rx="3.6" ry="3" fill="#e2e0dc" opacity="0.85"/>
<!-- top-right corner: device edge -->
<path d="M701.2 884 C707 891 711 900 712.4 910 C713.6 920 714 935 714 960 L721 960 L721 884 Z" fill="url(#edgefade)"/>
<path d="M701.2 884 C707 891 711 900 712.4 910 C713.6 920 714 935 714 956" fill="none" stroke="#e3edf2" stroke-width="1.3" opacity="0.9"/>
<path d="M713.6 884 L721 884 L721 895 C719 890 716.6 886.6 713.6 884 Z" fill="#fdfdfd"/>
</g>
<path d="M374 884 L392 884 L374 900 Z" fill="#dbe6ea" opacity="0.8" filter="url(#bl1)"/>
</g>
<!-- callouts -->
<g id="callouts">
<rect x="376" y="222" width="250" height="1" fill="#3a6377"/>
<rect x="375" y="590" width="74" height="1" fill="#3a6377"/>
<rect x="610" y="680" width="1" height="203" fill="#346c84"/>
<g fill="#1a6c9e">
<circle cx="629.5" cy="222.4" r="4.4"/>
<circle cx="452.4" cy="590.4" r="4.4"/>
<circle cx="610.5" cy="677.3" r="4.4"/>
</g>
<g stroke="#fff" stroke-width="1.1" fill="none">
<path d="M627 222.4h5M629.5 219.9v5"/>
<path d="M449.9 590.4h5M452.4 587.9v5"/>
<path d="M608 677.3h5M610.5 674.8v5"/>
</g>
</g>
<!-- frames -->
<g fill="none" stroke="#141414" stroke-width="1">
<rect x="27.5" y="108.5" width="348" height="212"/>
<rect x="26.5" y="456.5" width="348" height="211"/>
<rect x="373.5" y="883.5" width="348" height="211"/>
</g>
</svg>
<h1 class="t" id="title">Connect the audio mode with Bluetooth, AUX interface</h1>
<p class="t" id="cap1">Worldwide Plug/Outlet</p>
<p class="t" id="c2a">Tiny&amp;Tiny,wire collectong</p>
<p class="t" id="c2b">and capturing design.Convenient for</p>
<p class="t" id="c2c">carrying or travelling.</p>
<p class="t" id="c3a">4 USB port</p>
<p class="t" id="c3b">Easy for mobile devices</p>
</body>
</html>
